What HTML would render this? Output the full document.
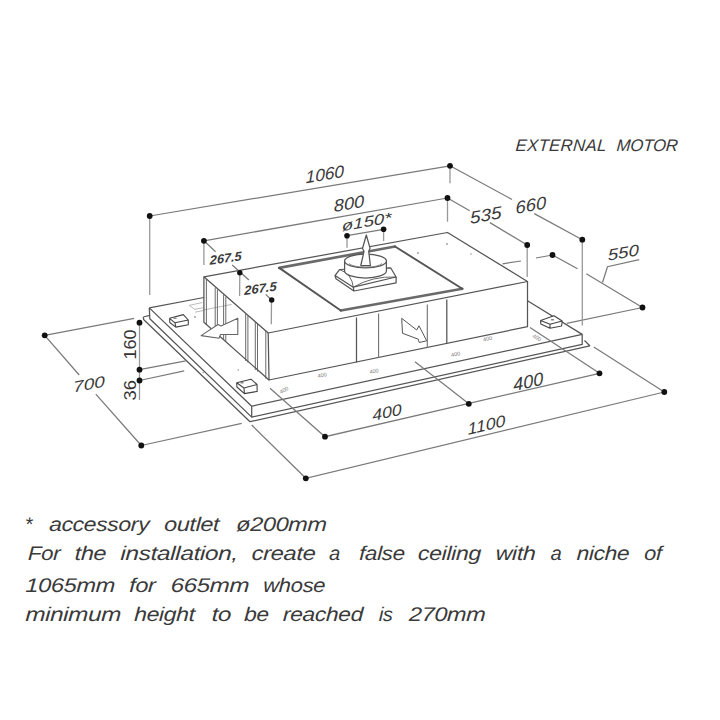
<!DOCTYPE html>
<html><head><meta charset="utf-8">
<style>
html,body{margin:0;padding:0;background:#fff;width:720px;height:720px;overflow:hidden}
svg{position:absolute;left:0;top:0}
.t{font-family:"Liberation Sans",sans-serif;font-style:italic;fill:#3a3a3a}
.d{stroke:#7a7a7a;stroke-width:1.25;fill:none}
.e{stroke:#999;stroke-width:1.3;fill:none}
.o{stroke:#555;stroke-width:1.25;fill:none;stroke-linejoin:round}
.g{stroke:#aaa;stroke-width:0.8;fill:none}
.dot{fill:#111}
</style></head>
<body>
<svg width="720" height="720" viewBox="0 0 720 720">
<!-- header -->
<g class="t" font-size="16.8" fill="#555"><text transform="translate(515.2,151) skewX(-4)" textLength="90.86" lengthAdjust="spacing">EXTERNAL</text><text transform="translate(616.3,151) skewX(-4)" textLength="61.35" lengthAdjust="spacing">MOTOR</text></g>

<!-- object: plate -->
<g class="o">
  <path d="M149.3 307.9 L203.9 297.5"/>
  <path d="M149.3 307.9 L251.7 406.2 L582.2 334.4 L527.5 300.8"/>
  <path d="M149.3 307.9 L149.8 318.8 L251.7 417.1 L582.2 344.4 L582.2 334.4 M251.7 406.2 L251.7 417.1"/>
  <path d="M143.3 317 L149.6 315.4 M143.3 317 L143.6 319.5 L250 421.7 L589.8 345.8 L584.5 340.5"/>
</g>
<!-- hidden / light lines on plate -->
<g class="g">
  <path d="M189.2 305.4 L202.3 302.5 M189.2 305.4 L194.6 309.3 L203.3 307.8 M203.3 310 L231.7 304.4 M195 312.2 L203.3 310.5"/>
</g>
<g fill="#999">
  <circle cx="195" cy="317" r="0.9"/><circle cx="238.3" cy="370" r="0.8"/><circle cx="203.3" cy="372.5" r="0.8"/>
  <circle cx="418" cy="253" r="0.9"/><circle cx="447" cy="244" r="0.9"/><circle cx="471" cy="254" r="0.8"/>
</g>
<g font-family="Liberation Sans" font-size="5.5" fill="#777">
  <text transform="translate(318,378) rotate(-12)">400</text>
  <text transform="translate(370,374) rotate(-12)">400</text>
  <text transform="translate(451.5,357) rotate(-12)">400</text>
  <text transform="translate(483.5,341.5) rotate(-12)">400</text>
  <text transform="translate(281,394) rotate(-30)">400</text>
  <text transform="translate(532,337) rotate(30)">400</text>
</g>
<!-- object: box -->
<g class="o">
  <path d="M203.9 276.8 L447.5 232.5 L527.5 281.5 L268.2 333 Z"/>
  <path d="M268.2 333 L269 380 L527.5 326.7 L527.5 281.5"/>
  <path d="M203.9 276.8 L203.9 322.3 L269 380"/>
  <path d="M356.5 317.5 L356.5 362.5 M446.8 299.5 L446.8 343.6"/>
  <path d="M378.6 313.5 L378.6 358 M427.3 304.5 L427.3 347.7" stroke="#707070" stroke-width="1.1"/>
</g>
<g stroke="#5a5a5a" stroke-width="0.9" fill="none">
  <path d="M206.4 279 L206.4 324.5 M215.2 287.5 L215.2 332.5 M217.4 289.5 L217.4 334 M223.6 295 L223.6 340 M225.8 297 L225.8 341.5 M245.7 314 L245.7 361 M247.9 316 L247.9 362.5 M255.3 322 L255.3 370 M257.5 324 L257.5 371.5 M265.8 330.5 L265.8 378.5"/>
</g>
<!-- recess -->
<path d="M340.8 310.5 L462.3 288.7 M279.2 267.9 L395 246.5" stroke="#6a6a6a" stroke-width="2.6" fill="none" stroke-linecap="round"/>
<path d="M279.2 267.9 L340.8 310.5 M395 246.5 L462.3 288.7" stroke="#555" stroke-width="1.9" fill="none" stroke-linecap="round"/>
<!-- motor -->
<g class="o" stroke-width="1">
  <path d="M335 275.5 L339.5 269.5 L390.6 267.8 L396.1 277 L353.3 287.2 Z" fill="#fff"/>
  <path d="M335 275.5 L336 278.8 L353.9 291 L396.1 282.8 L396.1 277 M353.3 287.2 L353.9 291"/>
  <path d="M339.5 269.5 Q352 274 353.3 287.2 M396.1 277 Q372 276 353.3 287.2" stroke="#555" stroke-width="0.9"/>
  <path d="M344.6 261 L344.6 271 A20.9 7 0 0 0 386.4 271 L386.4 261" fill="#fff"/>
  <ellipse cx="365.5" cy="261" rx="20.9" ry="6.8" fill="#fff"/>
  <path d="M349 263.5 A17 4.8 0 0 0 382 263.5" stroke="#777" stroke-width="0.8"/>
  <path d="M366.3 235 L362.5 248.5 L364 251.3 L360.8 265.5 L370.4 265.5 L368.7 251.3 L370.1 248.3 Z" fill="#fff"/>
</g>
<!-- arrows -->
<path d="M201.1 335.6 L218 324.5 L221 326 L237.8 318.3 L237.8 334.4 L220.5 334.5 L219 338.3 Z" fill="#fff" stroke="#666" stroke-width="1.1" stroke-linejoin="round"/>
<path d="M401.7 318.3 L402.5 333.3 L418.3 339.2 L419.2 342.5 L426.7 340.8 L419 325.8 L416.7 330 Z" fill="#fff" stroke="#555" stroke-width="1" stroke-linejoin="round"/>
<!-- feet -->
<g stroke="#444" stroke-width="1.1" fill="#fff" stroke-linejoin="round">
  <path d="M169.6 318.3 L183.3 314.6 L188.3 320 L175 322.8 Z M169.6 318.3 L169.8 322.5 L175.8 327.1 L188.3 324.8 L188.3 320 M175 322.8 L175.8 327.1"/>
  <path d="M236.7 382.8 L251 379.2 L257 384.5 L244 388 Z M236.7 382.8 L236.9 387 L244.4 393.6 L257.2 391.4 L257 384.5 M244 388 L244.4 393.6"/>
  <path d="M540.6 320.6 L554 315.8 L562.2 321 L550 324.2 Z M540.6 320.6 L540.8 324 L550 328.3 L561.6 326 L562.2 321 M550 324.2 L550 328.3"/>
</g>
<g fill="#888">
  <rect x="240.5" y="382" width="3" height="1.5"/><rect x="173.5" y="317.5" width="3" height="1.5"/><rect x="551" y="319" width="3" height="1.5"/>
</g>

<!-- dimension lines -->
<g class="d">
  <path d="M149.7 216 L450 165.8"/>
  <path d="M203.9 240.8 L447.5 198"/>
  <path d="M347 235.7 L383.6 229.3"/>
  <path d="M203.9 240.8 L215.6 251.7 M232.2 265 L248.9 280 M265.6 294.4 L271.7 300"/>
  <path d="M450 165.8 L512 199.5 M534.3 213.6 L582.3 239.7"/>
  <path d="M447.5 198 L469.7 210.8 M489.9 222.6 L527.2 245"/>
  <path d="M502.5 263.8 L521 261 M536 258 L552.5 255 M552.5 255 L577.5 268.8 M586.3 273.8 L642.5 307.5"/>
  <path d="M602.5 282.5 L607.5 266.7 L639.2 259.7"/>
  <path d="M642.5 307.5 L566.7 323.3"/>
  <path d="M44.7 335.3 L134.2 318.3 M44.7 335.3 L79.2 375 M95.8 394.2 L141.3 445.5 M141.3 445.5 L241.7 423.3"/>
  <path d="M139.5 369.7 L185.8 360.8 M139.5 380.5 L184.2 370.8"/>
  <path d="M270 388.3 L325 436.7 L599.5 373.3 M415 361.7 L468.8 403.8 M530 327.5 L599.5 373.3"/>
  <path d="M251.7 425 L305.8 478.3 L664.3 392 M593.8 347 L664.3 392"/>
</g>
<g class="e">
  <path d="M149.7 216 L149.7 295 M450 165.8 L450 183.3"/>
  <path d="M203.9 240.8 L203.9 265 M447.5 198 L447.5 221.7"/>
  <path d="M347 235.7 L347 247.8 M383.6 229.3 L383.6 241"/>
  <path d="M239.8 272.8 L239.6 296 M271.5 300 L271.3 324.2"/>
  <path d="M582.3 239.7 L582.3 325.6 M527.2 245 L527.2 277"/>
  <path d="M139.5 322.7 L139.5 400"/>
</g>
<g class="dot">
  <circle cx="149.7" cy="216" r="2.9"/><circle cx="450" cy="165.8" r="2.9"/>
  <circle cx="203.9" cy="240.8" r="2.9"/><circle cx="447.5" cy="198" r="2.9"/>
  <circle cx="347" cy="235.7" r="2.8"/><circle cx="383.6" cy="229.3" r="2.8"/>
  <circle cx="239.8" cy="272.8" r="2.7"/><circle cx="271.7" cy="300" r="2.7"/>
  <circle cx="582.3" cy="239.7" r="2.9"/><circle cx="527.2" cy="245" r="2.9"/>
  <circle cx="552.5" cy="255" r="2.9"/><circle cx="642.5" cy="307.5" r="2.9"/>
  <circle cx="44.7" cy="335.3" r="2.9"/><circle cx="141.3" cy="445.5" r="2.9"/>
  <circle cx="139.5" cy="322.7" r="2.9"/><circle cx="139.5" cy="369.7" r="2.9"/><circle cx="139.5" cy="380.5" r="2.9"/>
  <circle cx="325" cy="436.7" r="2.9"/><circle cx="468.8" cy="403.8" r="2.9"/><circle cx="599.5" cy="373.3" r="2.9"/>
  <circle cx="305.8" cy="478.3" r="2.9"/><circle cx="664.3" cy="392" r="2.9"/>
</g>

<!-- dimension texts -->
<g class="t" fill="#383838">
  <text transform="translate(305.8,183.3) rotate(-9.5) skewX(-8)" font-size="17.03" textLength="38.95" lengthAdjust="spacingAndGlyphs">1060</text>
  <text transform="translate(334.1,212.0) rotate(-10) skewX(-8)" font-size="16.96" textLength="30.67" lengthAdjust="spacingAndGlyphs">800</text>
  <text transform="translate(341.9,231.2) rotate(-10) skewX(-8)" font-size="14.62" textLength="50.55" lengthAdjust="spacingAndGlyphs">ø150*</text>
  <text transform="translate(470.2,224.0) rotate(-10.5) skewX(-8)" font-size="17.09" textLength="32.01" lengthAdjust="spacingAndGlyphs">535</text>
  <text transform="translate(515.8,214.0) rotate(-10.5) skewX(-8)" font-size="17.5" textLength="31.13" lengthAdjust="spacingAndGlyphs">660</text>
  <text transform="translate(608.0,260.7) rotate(-10) skewX(-8)" font-size="15.73" textLength="31.44" lengthAdjust="spacingAndGlyphs">550</text>
  <text transform="translate(73.5,392.6) rotate(-11) skewX(-8)" font-size="15.33" textLength="32.19" lengthAdjust="spacingAndGlyphs">700</text>
  <text transform="translate(372.7,421.0) rotate(-12.5) skewX(-8)" font-size="15.64" textLength="29.97" lengthAdjust="spacingAndGlyphs">400</text>
  <text transform="translate(513.8,391.2) rotate(-12.5) skewX(-8)" font-size="18.03" textLength="30.52" lengthAdjust="spacingAndGlyphs">400</text>
  <text transform="translate(468.0,434.7) rotate(-13) skewX(-8)" font-size="15.94" textLength="38.61" lengthAdjust="spacingAndGlyphs">1100</text>
  <text transform="translate(209.80,264.80) rotate(-8) skewX(-8)" font-size="12.6" textLength="32.15" lengthAdjust="spacingAndGlyphs" font-weight="bold">267.5</text>
  <text transform="translate(244.30,295.00) rotate(-8) skewX(-8)" font-size="12.6" textLength="32.64" lengthAdjust="spacingAndGlyphs" font-weight="bold">267.5</text>
</g>
<g font-family="Liberation Sans" font-size="17.3" fill="#333">
  <text transform="translate(135.6,359.6) rotate(-90)" textLength="30.2" lengthAdjust="spacingAndGlyphs">160</text>
  <text transform="translate(135.6,400.4) rotate(-90)" textLength="20.4" lengthAdjust="spacingAndGlyphs">36</text>
</g>

<!-- bottom text -->
<g class="t" font-size="19.8" fill="#4a4a4a" letter-spacing="-0.3">
  <text transform="translate(24.5,530.75) skewX(-2)">*</text>
  <text transform="translate(49.0,530.75) skewX(-2)" textLength="100.0" lengthAdjust="spacingAndGlyphs">accessory</text>
  <text transform="translate(164.0,530.75) skewX(-2)" textLength="55.0" lengthAdjust="spacingAndGlyphs">outlet</text>
  <text transform="translate(236.0,530.75) skewX(-2)" textLength="90.5" lengthAdjust="spacingAndGlyphs">ø200mm</text>
  <text transform="translate(27.75,559.5) skewX(-2)" textLength="32.19" lengthAdjust="spacingAndGlyphs">For</text>
  <text transform="translate(74.5,559.5) skewX(-2)" textLength="31.5" lengthAdjust="spacingAndGlyphs">the</text>
  <text transform="translate(120.25,559.5) skewX(-2)" textLength="117.5" lengthAdjust="spacingAndGlyphs">installation,</text>
  <text transform="translate(251.5,559.5) skewX(-2)" textLength="63.72" lengthAdjust="spacingAndGlyphs">create</text>
  <text transform="translate(329.0,559.5) skewX(-2)">a</text>
  <text transform="translate(359.0,559.5) skewX(-2)" textLength="45.5" lengthAdjust="spacingAndGlyphs">false</text>
  <text transform="translate(417.75,559.5) skewX(-2)" textLength="63.0" lengthAdjust="spacingAndGlyphs">ceiling</text>
  <text transform="translate(495.5,559.5) skewX(-2)" textLength="39.79" lengthAdjust="spacingAndGlyphs">with</text>
  <text transform="translate(550.5,559.5) skewX(-2)">a</text>
  <text transform="translate(576.5,559.5) skewX(-2)" textLength="52.5" lengthAdjust="spacingAndGlyphs">niche</text>
  <text transform="translate(644.0,559.5) skewX(-2)" textLength="17.5" lengthAdjust="spacingAndGlyphs">of</text>
  <text transform="translate(25.25,592) skewX(-2)" textLength="89.38" lengthAdjust="spacingAndGlyphs">1065mm</text>
  <text transform="translate(129.0,592) skewX(-2)" textLength="26.31" lengthAdjust="spacingAndGlyphs">for</text>
  <text transform="translate(170.5,592) skewX(-2)" textLength="78.5" lengthAdjust="spacingAndGlyphs">665mm</text>
  <text transform="translate(263.0,592) skewX(-2)" textLength="62.0" lengthAdjust="spacingAndGlyphs">whose</text>
  <text transform="translate(25.25,620.75) skewX(-2)" textLength="95.5" lengthAdjust="spacingAndGlyphs">minimum</text>
  <text transform="translate(134.0,620.75) skewX(-2)" textLength="60.5" lengthAdjust="spacingAndGlyphs">height</text>
  <text transform="translate(211.5,620.75) skewX(-2)" textLength="19.5" lengthAdjust="spacingAndGlyphs">to</text>
  <text transform="translate(244.0,620.75) skewX(-2)" textLength="24.5" lengthAdjust="spacingAndGlyphs">be</text>
  <text transform="translate(282.75,620.75) skewX(-2)" textLength="80.0" lengthAdjust="spacingAndGlyphs">reached</text>
  <text transform="translate(378.75,620.75) skewX(-2)" textLength="13.69" lengthAdjust="spacingAndGlyphs">is</text>
  <text transform="translate(408.75,620.75) skewX(-2)" textLength="76.5" lengthAdjust="spacingAndGlyphs">270mm</text>
</g>
</svg>
</body></html>
